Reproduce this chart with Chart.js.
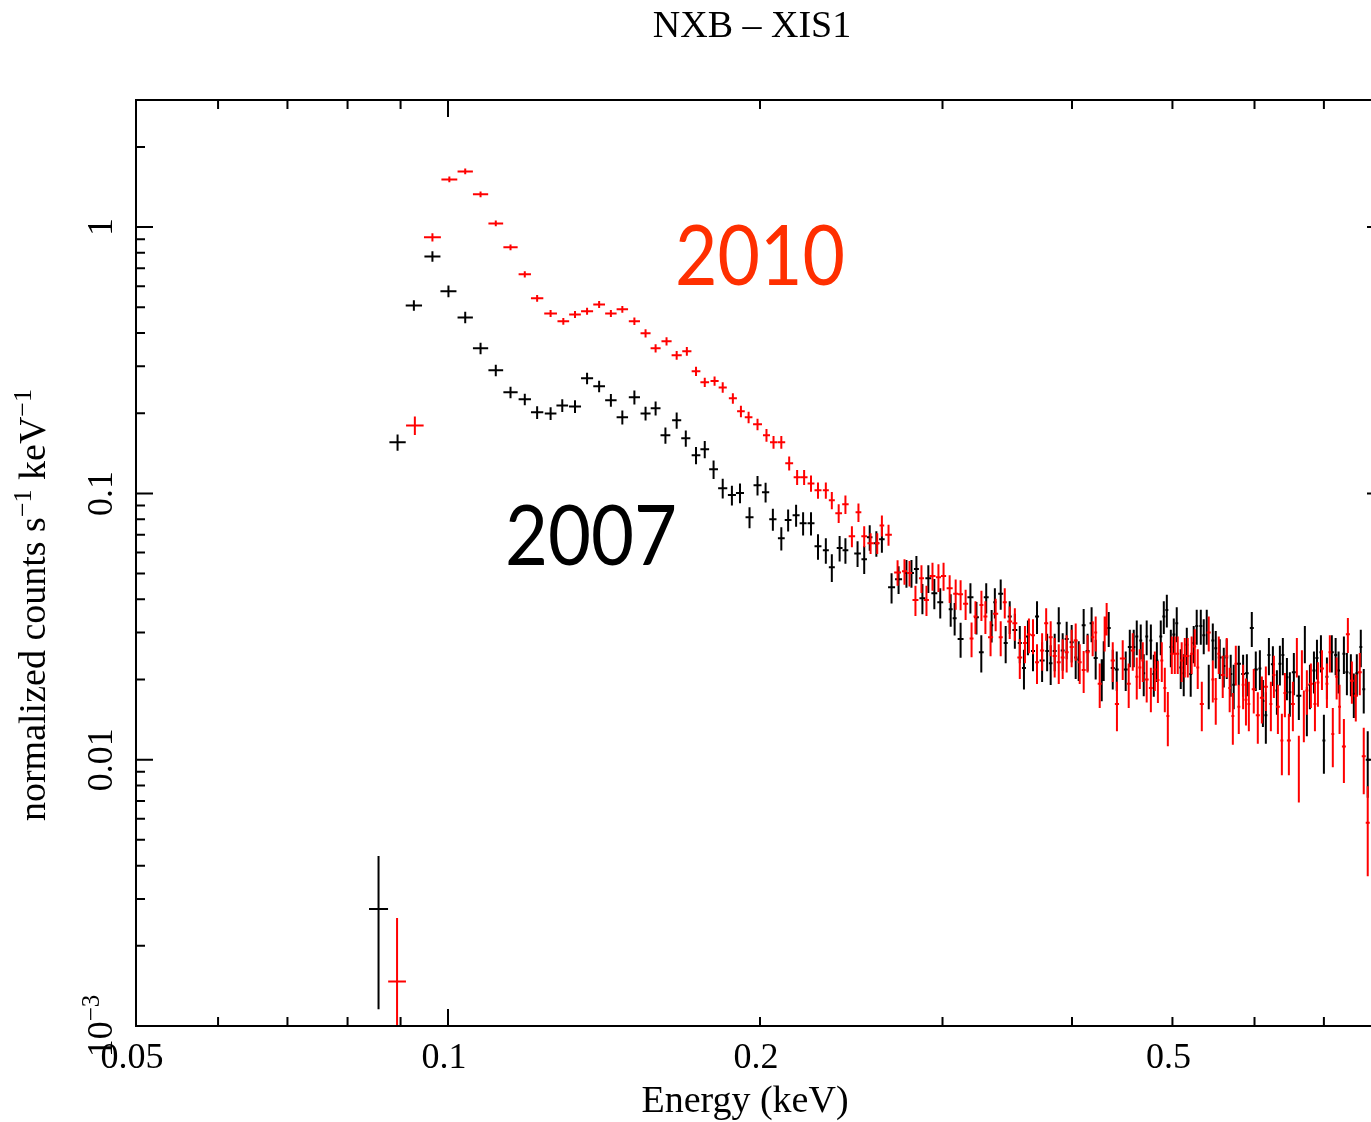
<!DOCTYPE html>
<html>
<head>
<meta charset="utf-8">
<script src="https://cdn.jsdelivr.net/npm/chart.js@4.4.1/dist/chart.umd.min.js"></script>
<style>
html,body{margin:0;padding:0;background:#fff;overflow:hidden;width:1371px;height:1122px;}
#wrap{position:absolute;left:0;top:0;width:1430px;height:1122px;}
canvas{display:block;}
</style>
</head>
<body>
<div id="wrap"><canvas id="c" width="1430" height="1122"></canvas></div>
<script>
// ---------------- data ----------------
const energy2007 = [
0.0857,0.0894,0.0927,0.0966,0.1001,0.1039,0.1075,0.1112,0.1149,0.1186,
0.1219,0.1256,0.1289,0.1326,0.1362,0.1399,0.1436,0.1473,0.1513,0.1551,
0.1586,0.1621,0.1662,0.1696,0.1735,0.1769,0.1804,0.1841,0.1879,0.1913,
0.1954,0.1989,0.2025,0.2058,0.2097,0.2129,0.2167,0.2201,0.2240,0.2275,
0.2315,0.2346,0.2387,0.2418,0.2484,0.2521,0.2552,0.2590,0.2622,0.2679,
0.2721,0.2769,0.2800,0.2831,0.2869,0.2907,0.2946,0.2985,0.3055,0.3082,
0.3123,0.3192,0.3235,0.3270,0.3306,0.3346,0.3370,0.3414,0.3452,0.3483,
0.3523,0.3562,0.3595,0.3627,0.3668,0.3701,0.3743,0.3785,0.3815,0.3849,
0.3884,0.3918,0.3953,0.3997,0.4033,0.4060,0.4105,0.4141,0.4178,0.4216,
0.4273,0.4292,0.4340,0.4379,0.4418,0.4507,0.4548,0.4588,0.4619,0.4660,
0.4691,0.4722,0.4766,0.4797,0.4830,0.4872,0.4905,0.4938,0.4982,0.5015,
0.5048,0.5093,0.5127,0.5162,0.5207,0.5242,0.5277,0.5325,0.5360,0.5396,
0.5420,0.5469,0.5505,0.5554,0.5604,0.5641,0.5691,0.5729,0.5794,0.5850,
0.5899,0.5964,0.6017,0.6072,0.6113,0.6153,0.6195,0.6250,0.6306,0.6348,
0.6390,0.6448,0.6490,0.6548,0.6621,0.6710,0.6740,0.6786,0.6847,0.6893,
0.6954,0.7000,0.7047,0.7124,0.7185,0.7232,0.7318,0.7367,0.7432,0.7481,
0.7531,0.7598,0.7648,0.7716,0.7850];
const counts2007 = [
0.00275,0.1555,0.508,0.776,0.574,0.458,0.3505,0.2897,0.2395,0.2255,
0.2015,0.1996,0.214,0.212,0.2704,0.2523,0.2236,0.193,0.2295,0.1996,
0.2087,0.1652,0.188,0.161,0.139,0.1464,0.1231,0.1045,0.0985,0.1003,
0.0813,0.1072,0.101,0.080,0.0678,0.0794,0.0828,0.0772,0.0772,0.0633,
0.0611,0.0528,0.0623,0.0611,0.0595,0.0566,0.0684,0.065,0.0672,0.0444,
0.0476,0.0502,0.0502,0.052,0.0404,0.048,0.0422,0.039,0.0367,0.034,
0.0284,0.0407,0.0343,0.0253,0.0407,0.032,0.039,0.042,0.0274,0.0345,
0.0307,0.0274,0.0221,0.029,0.0256,0.0345,0.0236,0.0256,0.023,0.0256,
0.0325,0.0257,0.0284,0.0276,0.0242,0.0238,0.032,0.0256,0.0325,0.0241,
0.0202,0.0238,0.0312,0.0221,0.0218,0.0218,0.0265,0.0265,0.029,0.028,
0.0211,0.029,0.028,0.021,0.0236,0.029,0.0345,0.0365,0.0265,0.0295,
0.0325,0.0222,0.0211,0.027,0.021,0.0274,0.0318,0.0318,0.0293,0.0318,
0.0191,0.028,0.0262,0.0242,0.0225,0.0242,0.021,0.0191,0.0229,0.021,
0.0211,0.0312,0.0218,0.022,0.0166,0.0147,0.0247,0.0228,0.0182,0.0229,
0.0247,0.0204,0.0179,0.0213,0.0174,0.0274,0.0155,0.0191,0.0216,0.0241,
0.0253,0.0118,0.0205,0.0253,0.0247,0.0216,0.025,0.0213,0.0211,0.0177,
0.0211,0.0265,0.0184,0.0100,0.0190];
const relErr2007 = [
0.58,0.07,0.045,0.045,0.05,0.05,0.05,0.05,0.05,0.05,
0.055,0.055,0.055,0.055,0.05,0.05,0.055,0.06,0.06,0.06,
0.06,0.07,0.07,0.07,0.075,0.075,0.08,0.085,0.085,0.085,
0.09,0.085,0.085,0.095,0.1,0.095,0.095,0.1,0.1,0.11,
0.11,0.12,0.11,0.11,0.11,0.12,0.11,0.11,0.11,0.13,
0.12,0.12,0.12,0.12,0.13,0.12,0.13,0.13,0.14,0.14,
0.15,0.13,0.14,0.16,0.13,0.14,0.13,0.13,0.16,0.14,
0.15,0.16,0.17,0.15,0.16,0.14,0.17,0.16,0.17,0.16,
0.15,0.16,0.16,0.16,0.17,0.17,0.15,0.16,0.15,0.17,
0.18,0.17,0.15,0.17,0.17,0.17,0.16,0.16,0.15,0.15,
0.18,0.15,0.15,0.18,0.17,0.15,0.14,0.14,0.16,0.15,
0.15,0.17,0.18,0.16,0.18,0.16,0.15,0.15,0.15,0.15,
0.19,0.16,0.16,0.17,0.17,0.17,0.18,0.19,0.17,0.18,
0.18,0.15,0.17,0.17,0.2,0.22,0.16,0.17,0.19,0.17,
0.16,0.18,0.19,0.18,0.19,0.16,0.21,0.19,0.18,0.17,
0.16,0.25,0.18,0.16,0.16,0.18,0.16,0.18,0.18,0.19,
0.18,0.16,0.19,0.28,0.19];

const energy2010 = [
0.0893,0.0929,0.0966,0.1003,0.1039,0.1075,0.1112,0.1149,0.1186,0.1219,
0.1256,0.1292,0.1326,0.1362,0.1399,0.1436,0.1473,0.1513,0.1551,0.1586,
0.1625,0.1662,0.1700,0.1735,0.1769,0.1808,0.1841,0.1883,0.1917,0.1950,
0.1989,0.2029,0.2061,0.2097,0.2134,0.2172,0.2206,0.2240,0.2275,0.2315,
0.2346,0.2382,0.2418,0.2453,0.2489,0.2521,0.2557,0.2595,0.2622,0.2661,
0.2715,0.2757,0.2788,0.2825,0.2863,0.2895,0.2934,0.2973,0.3007,0.3048,
0.3089,0.3123,0.3158,0.3200,0.3228,0.3271,0.3300,0.3338,0.3376,0.3414,
0.3445,0.3483,0.3523,0.3562,0.3603,0.3635,0.3668,0.3701,0.3743,0.3777,
0.3815,0.3849,0.3884,0.3918,0.3953,0.3997,0.4033,0.4069,0.4105,0.4141,
0.4188,0.4216,0.4254,0.4301,0.4320,0.4379,0.4420,0.4477,0.4537,0.4578,
0.4619,0.4650,0.4681,0.4722,0.4766,0.4808,0.4841,0.4883,0.4916,0.4949,
0.4993,0.5026,0.5059,0.5104,0.5139,0.5173,0.5218,0.5254,0.5289,0.5337,
0.5420,0.5469,0.5505,0.5542,0.5591,0.5641,0.5678,0.5718,0.5756,0.5794,
0.5850,0.5887,0.5925,0.5990,0.6044,0.6099,0.6153,0.6222,0.6264,0.6320,
0.6376,0.6419,0.6476,0.6534,0.6592,0.6621,0.6666,0.6695,0.6740,0.6801,
0.6862,0.6908,0.6970,0.7047,0.7093,0.7140,0.7201,0.7248,0.7318,0.7383,
0.7449,0.7514,0.7581,0.7648,0.7716,0.7850];
const counts2010 = [
0.00147,0.18,0.915,1.51,1.618,1.327,1.032,0.839,0.6645,0.540,
0.474,0.4426,0.47,0.483,0.512,0.474,0.491,0.443,0.399,0.3505,
0.3724,0.33,0.3415,0.2872,0.2612,0.264,0.250,0.2275,0.2033,0.193,
0.1817,0.1652,0.1556,0.1556,0.1297,0.1149,0.1149,0.109,0.1027,0.1027,
0.0942,0.0842,0.091,0.069,0.0849,0.069,0.065,0.065,0.0757,0.0699,
0.0505,0.051,0.0502,0.0398,0.048,0.0398,0.049,0.0484,0.049,0.044,
0.042,0.0418,0.0385,0.0285,0.0345,0.0381,0.0345,0.0288,0.0353,0.0288,
0.039,0.033,0.0325,0.0242,0.0274,0.0295,0.0293,0.0232,0.0257,0.0325,
0.0288,0.0245,0.0232,0.0242,0.0253,0.0265,0.028,0.0232,0.0217,0.0253,
0.0288,0.030,0.0193,0.030,0.034,0.0236,0.0162,0.024,0.0193,0.0257,
0.0205,0.0222,0.0236,0.020,0.0186,0.0218,0.0199,0.0236,0.0186,0.0146,
0.025,0.025,0.025,0.0236,0.0245,0.0245,0.025,0.0266,0.0222,0.0162,
0.030,0.020,0.0169,0.025,0.0208,0.0245,0.0186,0.0146,0.0229,0.0158,
0.0191,0.0168,0.0162,0.0184,0.0147,0.0171,0.0188,0.0162,0.0208,0.0158,
0.0118,0.0178,0.0118,0.0162,0.0245,0.0096,0.022,0.0149,0.0182,0.0193,
0.0162,0.0195,0.022,0.0193,0.0253,0.0125,0.0205,0.0158,0.0112,0.0296,
0.0198,0.0174,0.0213,0.0103,0.0058,0.0180];
const relErr2010 = [
0.73,0.08,0.035,0.025,0.025,0.025,0.025,0.025,0.028,0.03,
0.03,0.03,0.03,0.03,0.03,0.03,0.03,0.032,0.035,0.035,
0.035,0.038,0.038,0.04,0.04,0.04,0.045,0.045,0.05,0.05,
0.05,0.055,0.055,0.055,0.06,0.065,0.065,0.07,0.07,0.07,
0.075,0.08,0.08,0.09,0.08,0.09,0.09,0.09,0.09,0.09,
0.11,0.11,0.11,0.13,0.12,0.13,0.12,0.12,0.12,0.12,
0.13,0.13,0.13,0.15,0.14,0.13,0.14,0.15,0.14,0.15,
0.13,0.14,0.14,0.17,0.16,0.15,0.15,0.17,0.16,0.14,
0.15,0.17,0.17,0.17,0.16,0.16,0.16,0.17,0.18,0.16,
0.15,0.15,0.19,0.15,0.14,0.17,0.21,0.17,0.19,0.16,
0.18,0.17,0.17,0.18,0.19,0.17,0.18,0.17,0.19,0.23,
0.16,0.16,0.16,0.17,0.17,0.17,0.16,0.16,0.17,0.21,
0.15,0.18,0.2,0.16,0.18,0.17,0.19,0.22,0.17,0.21,
0.19,0.2,0.21,0.19,0.22,0.2,0.19,0.21,0.18,0.21,
0.26,0.19,0.26,0.21,0.17,0.28,0.17,0.22,0.19,0.19,
0.21,0.19,0.17,0.19,0.16,0.25,0.18,0.21,0.27,0.15,
0.18,0.2,0.18,0.28,0.37,0.2];

const xTickValues = [0.05, 0.1, 0.2, 0.5];
const xTickLabels = ['0.05', '0.1', '0.2', '0.5'];
const yTickValues = [1, 0.1, 0.01];
const yTickLabels = ['1', '0.1', '0.01'];
const titleText = 'NXB \u2013 XIS1';
const xTitle = 'Energy (keV)';

// ---------------- chart ----------------
const SERIF = '"Liberation Serif","Times New Roman",Times,serif';
const series = [
  {label: '2007', e: energy2007, c: counts2007, r: relErr2007, color: '#000000'},
  {label: '2010', e: energy2010, c: counts2010, r: relErr2010, color: '#ff0000'}
];

const errorBarPlugin = {
  id: 'errorBars',
  afterDatasetsDraw(chart) {
    const {ctx, chartArea: a, scales: {x, y}} = chart;
    ctx.save();
    ctx.beginPath();
    ctx.rect(a.left, a.top, a.right - a.left, a.bottom - a.top);
    ctx.clip();
    series.forEach(s => {
      ctx.strokeStyle = s.color;
      ctx.lineWidth = 2;
      ctx.lineCap = 'butt';
      ctx.beginPath();
      const n = s.e.length;
      for (let i = 0; i < n; i++) {
        const e = s.e[i], c = s.c[i], sig = c * s.r[i];
        const dl = i > 0 ? Math.log(e / s.e[i - 1]) : Infinity;
        const dr = i < n - 1 ? Math.log(s.e[i + 1] / e) : Infinity;
        const hw = Math.min(dl, dr) / 2;
        const px = x.getPixelForValue(e);
        const x0 = x.getPixelForValue(e * Math.exp(-hw));
        const x1 = x.getPixelForValue(e * Math.exp(hw));
        const py = y.getPixelForValue(c);
        const y0 = y.getPixelForValue(Math.max(c - sig, 1e-6));
        const y1 = y.getPixelForValue(c + sig);
        ctx.moveTo(x0, py); ctx.lineTo(x1, py);
        ctx.moveTo(px, y0); ctx.lineTo(px, y1);
      }
      ctx.stroke();
    });
    ctx.restore();
  }
};

function drawRotated(ctx, cx, baseX, pieces) {
  // pieces: [text, fontSize, raise]
  let total = 0;
  pieces.forEach(p => { ctx.font = p[1] + 'px ' + SERIF; p.w = ctx.measureText(p[0]).width; total += p.w; });
  ctx.save();
  ctx.translate(baseX, cx);
  ctx.rotate(-Math.PI / 2);
  let pos = -total / 2;
  ctx.textAlign = 'left';
  ctx.textBaseline = 'alphabetic';
  pieces.forEach(p => {
    ctx.font = p[1] + 'px ' + SERIF;
    ctx.fillText(p[0], pos, -p[2]);
    pos += p.w;
  });
  ctx.restore();
}

const framePlugin = {
  id: 'frame',
  afterDraw(chart) {
    const {ctx, chartArea: a, scales: {x, y}} = chart;
    ctx.save();
    ctx.strokeStyle = '#000';
    ctx.fillStyle = '#000';
    ctx.lineWidth = 2;
    ctx.lineCap = 'square';
    ctx.strokeRect(a.left, a.top, a.right - a.left, a.bottom - a.top);
    ctx.lineCap = 'butt';
    ctx.beginPath();
    // x ticks (bottom and top)
    for (let d = -2; d <= 0; d++) {
      for (let k = 1; k <= 9; k++) {
        const v = k * Math.pow(10, d);
        if (v < 0.05 - 1e-9 || v > 0.8 + 1e-9) continue;
        const len = (k === 1) ? 17 : 9;
        const px = x.getPixelForValue(v);
        ctx.moveTo(px, a.bottom); ctx.lineTo(px, a.bottom - len);
        ctx.moveTo(px, a.top); ctx.lineTo(px, a.top + len);
      }
    }
    // y ticks (left and right)
    for (let d = -3; d <= 0; d++) {
      for (let k = 1; k <= 9; k++) {
        const v = k * Math.pow(10, d);
        if (v < 0.001 - 1e-12 || v > 3 + 1e-9) continue;
        const len = (k === 1) ? 17 : 9;
        const py = y.getPixelForValue(v);
        ctx.moveTo(a.left, py); ctx.lineTo(a.left + len, py);
        ctx.moveTo(a.right, py); ctx.lineTo(a.right - len, py);
      }
    }
    ctx.stroke();

    // x tick labels
    ctx.font = '36px ' + SERIF;
    ctx.textAlign = 'center';
    ctx.textBaseline = 'alphabetic';
    xTickValues.forEach((v, i) => {
      ctx.fillText(xTickLabels[i], x.getPixelForValue(v) - 4, 1068);
    });
    // y tick labels (rotated)
    yTickValues.forEach((v, i) => {
      drawRotated(ctx, y.getPixelForValue(v), 112, [[yTickLabels[i], 36, 0]]);
    });
    drawRotated(ctx, y.getPixelForValue(0.001), 112, [['10', 36, 0], ['\u22123', 25, 13]]);

    // titles
    ctx.font = '38px ' + SERIF;
    ctx.textAlign = 'center';
    ctx.fillText(titleText, 752, 37);
    ctx.fillText(xTitle, 745, 1112);
    drawRotated(ctx, 605, 45, [['normalized counts s', 38, 0], ['\u22121', 26, 14], [' keV', 38, 0], ['\u22121', 26, 14]]);

    // series annotations
    const ann = [
      {text: '2010', color: '#ff2f00', left: 675, base: 285, width: 170},
      {text: '2007', color: '#000000', left: 505, base: 565, width: 172}
    ];
    ann.forEach(t => {
      ctx.save();
      ctx.font = '84px Lato, "Open Sans", sans-serif';
      ctx.fillStyle = t.color;
      ctx.textAlign = 'left';
      const w = ctx.measureText(t.text).width;
      ctx.translate(t.left, t.base);
      ctx.scale(t.width / w, 1);
      ctx.fillText(t.text, 0, 0);
      ctx.restore();
    });
    ctx.restore();
  }
};

new Chart(document.getElementById('c'), {
  type: 'scatter',
  data: {
    datasets: series.map(s => ({
      label: s.label,
      data: s.e.map((e, i) => ({x: e, y: s.c[i]})),
      pointRadius: 0,
      borderColor: s.color,
      backgroundColor: s.color,
      showLine: false
    }))
  },
  options: {
    responsive: false,
    animation: false,
    devicePixelRatio: 1,
    layout: {padding: {left: 136, top: 100, right: 1430 - 1384, bottom: 1122 - 1026}},
    plugins: {legend: {display: false}, tooltip: {enabled: false}, title: {display: false}},
    scales: {
      x: {type: 'logarithmic', min: 0.05, max: 0.8, display: false},
      y: {type: 'logarithmic', min: 0.001, max: 3, display: false}
    }
  },
  plugins: [errorBarPlugin, framePlugin]
});
</script>
</body>
</html>
